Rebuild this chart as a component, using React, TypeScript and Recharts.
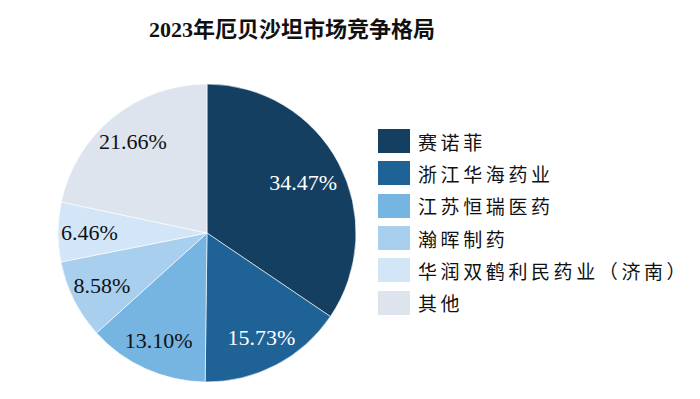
import React from "react";
import { PieChart, Pie, Cell } from "recharts";

const companies = ["赛诺菲", "浙江华海药业", "江苏恒瑞医药", "瀚晖制药", "华润双鹤利民药业（济南）", "其他"];
const shares = [34.47, 15.73, 13.1, 8.58, 6.46, 21.66];
const colors = ["#153F60", "#1F6296", "#76B4E2", "#A8CFEE", "#D2E6F7", "#DEE4EE"];
const labelColors = ["#ffffff", "#ffffff", "#111111", "#111111", "#111111", "#111111"];

const data = companies.map((name, i) => ({ name, value: shares[i] }));

const RAD = Math.PI / 180;

const renderLabel = (props: any) => {
  const { cx, cy, midAngle, outerRadius, index, value } = props;
  const r = outerRadius * (index === 0 ? 0.73 : 0.79);
  const x = cx + r * Math.cos(-midAngle * RAD);
  const y = cy + r * Math.sin(-midAngle * RAD);
  return (
    <text
      x={x}
      y={y}
      fill={labelColors[index]}
      textAnchor="middle"
      dominantBaseline="central"
      fontFamily="'Liberation Serif', 'Times New Roman', serif"
      fontSize={22}
    >
      {value.toFixed(2)}%
    </text>
  );
};

export default function App() {
  return (
    <div style={{ position: "absolute", left: 0, top: 0, width: 700, height: 399, background: "#fff" }}>
      <div
        style={{
          position: "absolute",
          left: 0,
          width: 584,
          top: 15,
          textAlign: "center",
          fontFamily: "'Liberation Serif', 'Noto Sans CJK SC', serif",
          fontWeight: "bold",
          fontSize: 22,
          color: "#111",
          lineHeight: "30px",
        }}
      >
        2023年厄贝沙坦市场竞争格局
      </div>
      <div style={{ position: "absolute", left: 0, top: 0 }}>
        <PieChart width={700} height={399} margin={{ top: 0, right: 0, bottom: 0, left: 0 }}>
          <Pie
            data={data}
            dataKey="value"
            nameKey="name"
            cx={207}
            cy={233}
            outerRadius={149}
            startAngle={90}
            endAngle={-270}
            stroke="#ffffff"
            strokeWidth={0.6}
            label={renderLabel}
            labelLine={false}
            isAnimationActive={false}
          >
            {data.map((d, i) => (
              <Cell key={d.name} fill={colors[i]} />
            ))}
          </Pie>
        </PieChart>
      </div>
      <div style={{ position: "absolute", left: 378, top: 125 }}>
        {companies.map((c, i) => (
          <div key={c} style={{ display: "flex", alignItems: "center", height: 32.3 }}>
            <div style={{ width: 32, height: 24, background: colors[i], marginRight: 8 }} />
            <span
              style={{
                fontFamily: "'Liberation Serif', 'Noto Sans CJK SC', serif",
                fontSize: 19,
                color: "#111",
                letterSpacing: 3.6,
                whiteSpace: "nowrap",
              }}
            >
              {c}
            </span>
          </div>
        ))}
      </div>
    </div>
  );
}
